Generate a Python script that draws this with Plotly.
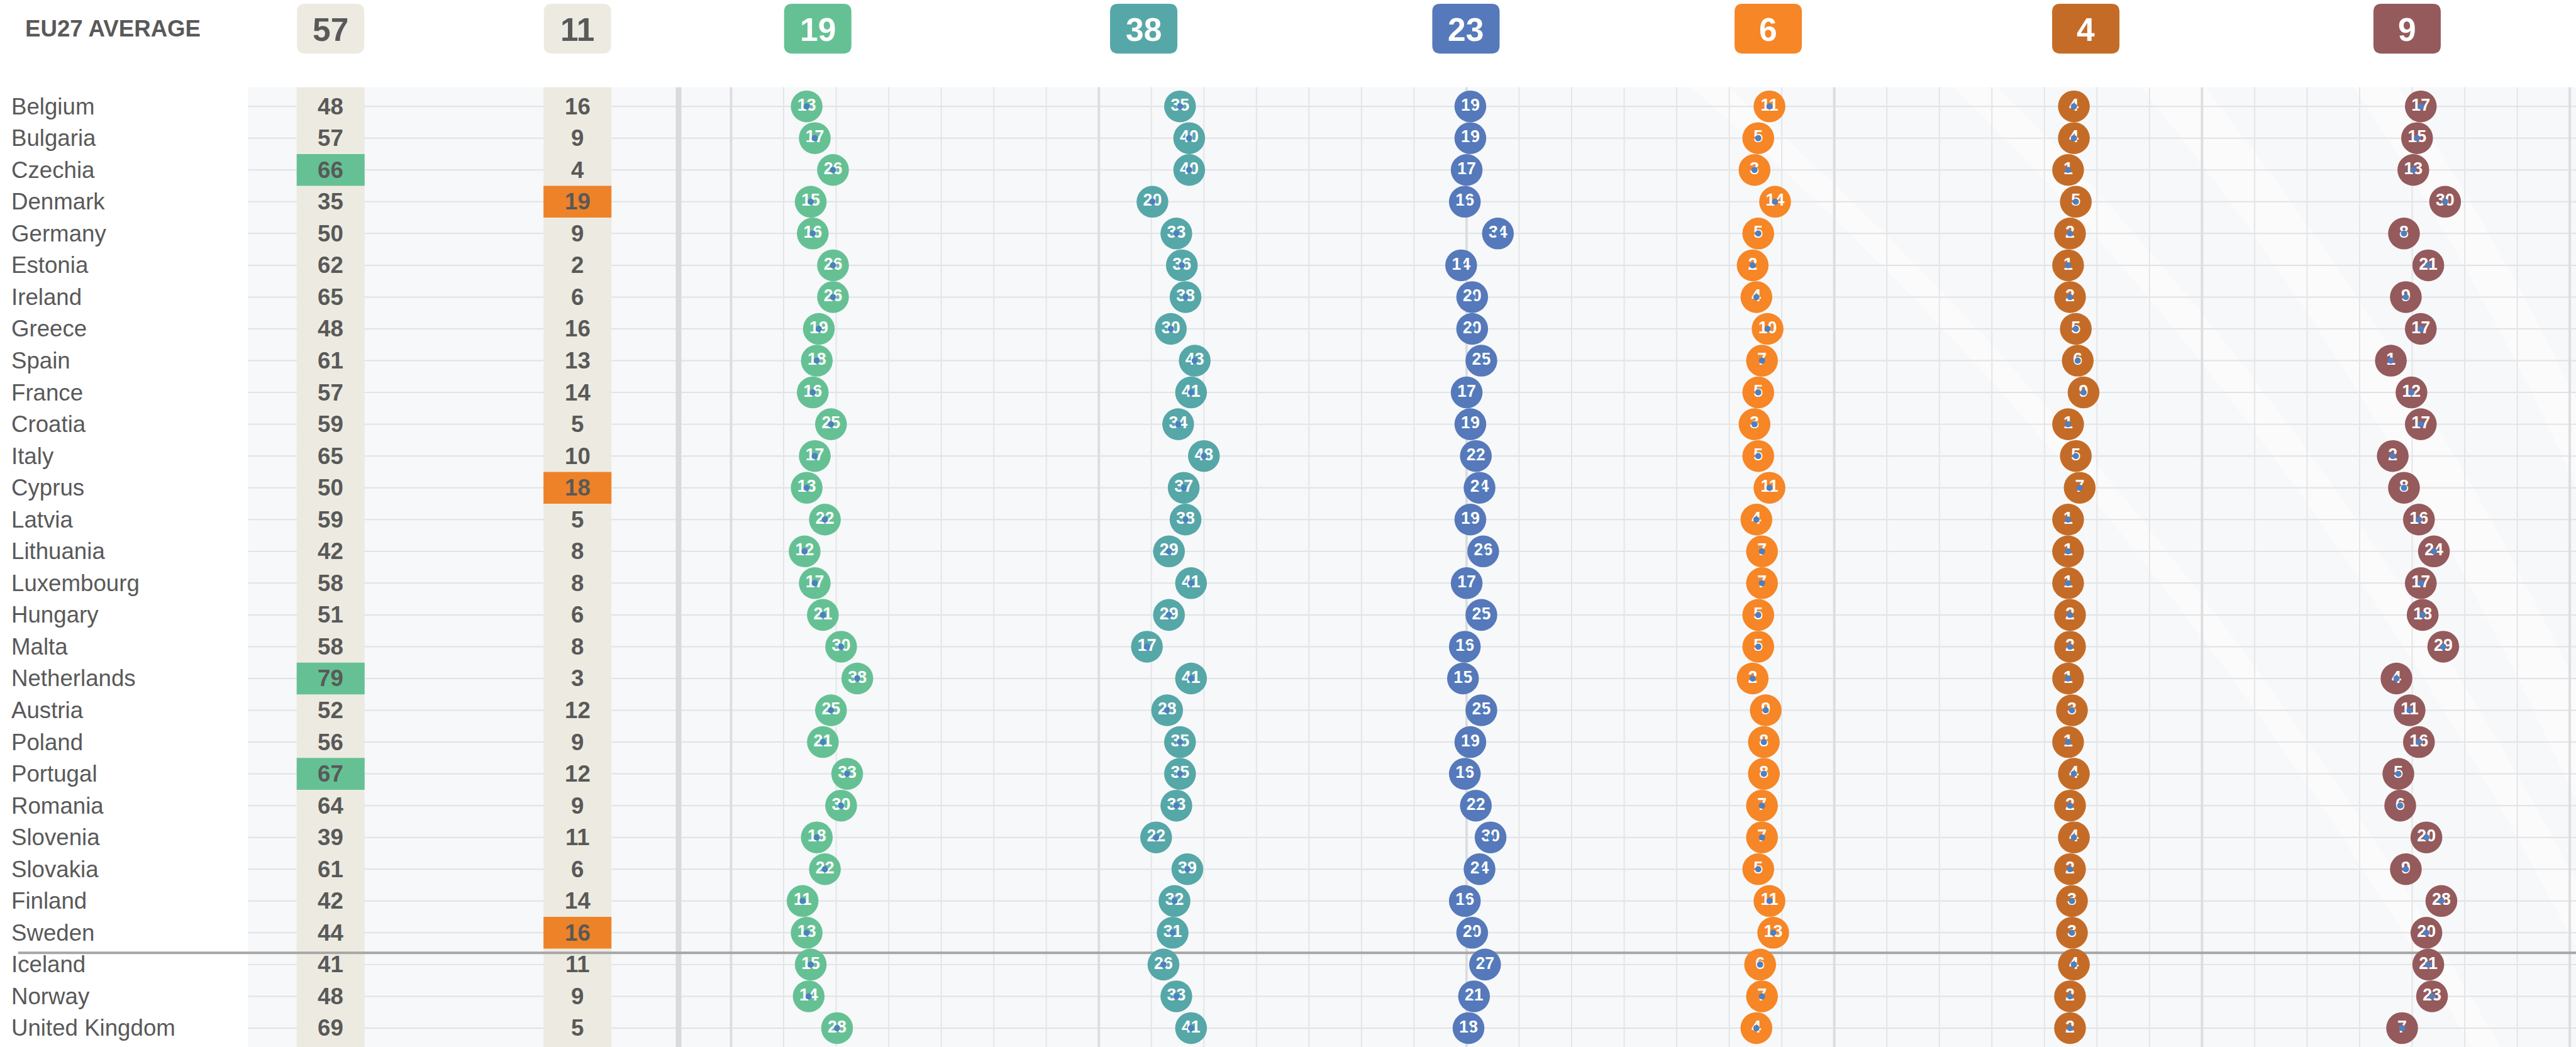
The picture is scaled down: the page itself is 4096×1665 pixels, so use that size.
import plotly.graph_objects as go

# canvas geometry (reference pixel units, scaled on output)
W_REF, H_REF = 4133, 1680
OUT_W, OUT_H = 4096, 1665
S = OUT_W / W_REF

FONT = "Liberation Sans, Arial, sans-serif"
TXT = "#595959"

countries = ["Belgium", "Bulgaria", "Czechia", "Denmark", "Germany", "Estonia", "Ireland",
             "Greece", "Spain", "France", "Croatia", "Italy", "Cyprus", "Latvia", "Lithuania",
             "Luxembourg", "Hungary", "Malta", "Netherlands", "Austria", "Poland", "Portugal",
             "Romania", "Slovenia", "Slovakia", "Finland", "Sweden", "Iceland", "Norway",
             "United Kingdom"]

# table columns
table_a = [48, 57, 66, 35, 50, 62, 65, 48, 61, 57, 59, 65, 50, 59, 42, 58, 51, 58, 79, 52,
           56, 67, 64, 39, 61, 42, 44, 41, 48, 69]
table_b = [16, 9, 4, 19, 9, 2, 6, 16, 13, 14, 5, 10, 18, 5, 8, 8, 6, 8, 3, 12,
           9, 12, 9, 11, 6, 14, 16, 11, 9, 5]
table_avg = [57, 11]
top_a = ["Czechia", "Netherlands", "Portugal"]
top_b = ["Denmark", "Cyprus", "Sweden"]

# dot columns
dots_1 = [13, 17, 26, 15, 16, 26, 26, 19, 18, 16, 25, 17, 13, 22, 12, 17, 21, 30, 38, 25,
          21, 33, 30, 18, 22, 11, 13, 15, 14, 28]
dots_2 = [35, 40, 40, 20, 33, 36, 38, 30, 43, 41, 34, 48, 37, 38, 29, 41, 29, 17, 41, 28,
          35, 35, 33, 22, 39, 32, 31, 26, 33, 41]
dots_3 = [19, 19, 17, 16, 34, 14, 20, 20, 25, 17, 19, 22, 24, 19, 26, 17, 25, 16, 15, 25,
          19, 16, 22, 30, 24, 16, 20, 27, 21, 18]
dots_4 = [11, 5, 3, 14, 5, 2, 4, 10, 7, 5, 3, 5, 11, 4, 7, 7, 5, 5, 2, 9,
          8, 8, 7, 7, 5, 11, 13, 6, 7, 4]
dots_5 = [4, 4, 1, 5, 2, 1, 2, 5, 6, 9, 1, 5, 7, 1, 1, 1, 2, 2, 1, 3,
          1, 4, 2, 4, 2, 3, 3, 4, 2, 2]
dots_6 = [17, 15, 13, 30, 8, 21, 9, 17, 1, 12, 17, 2, 8, 16, 24, 17, 18, 29, 4, 11,
          16, 5, 6, 20, 9, 28, 20, 21, 23, 7]
dot_series = [dots_1, dots_2, dots_3, dots_4, dots_5, dots_6]
dot_avgs = [19, 38, 23, 6, 4, 9]
dot_colors = ["#65c194", "#56a7a8", "#5579ba", "#f68626", "#c46c27", "#955a5b"]

# layout of each dot column: left edge of its scale and pixels per unit
col_zero = [1252, 1790, 2303, 2806, 3315, 3833]
col_ppu = [3.25, 2.95, 2.95, 3.0, 3.1, 3.0]
col_span = [500, 500, 500, 500, 500, 300]
header_cx = [530.5, 926.5, 1312, 1835, 2352, 2837, 3346.5, 3862]
HEADER_W = 108

ROW0, ROW_H = 170.7, 51.0
GRID_TOP = 140
GRID_LEFT = 398


def px(x):
    return x / W_REF


def py(y):
    return 1 - y / H_REF


def rounded_rect(x0, y0, x1, y1, r):
    rx, ry = r / W_REF, r / H_REF
    X0, X1, Y0, Y1 = px(x0), px(x1), py(y0), py(y1)
    return (f"M {X0 + rx},{Y0} L {X1 - rx},{Y0} Q {X1},{Y0} {X1},{Y0 - ry} "
            f"L {X1},{Y1 + ry} Q {X1},{Y1} {X1 - rx},{Y1} L {X0 + rx},{Y1} "
            f"Q {X0},{Y1} {X0},{Y1 + ry} L {X0},{Y0 - ry} Q {X0},{Y0} {X0 + rx},{Y0} Z")


shapes = []
# plot-area background
shapes.append(dict(type="rect", xref="paper", yref="paper", x0=px(GRID_LEFT), x1=1,
                   y0=0, y1=py(GRID_TOP), fillcolor="#f7f8fa", line_width=0, layer="below"))
# faint decorative light bands in the background
for (xa, xb, xc, w) in [(3350, 3950, 4350, 80), (3700, 4200, 4500, 60),
                        (3000, 3750, 4250, 50), (2550, 3400, 4000, 40)]:
    path = f"M {px(xa)},{py(-20)} Q {px(xb)},{py(650)} {px(xc)},{py(1700)}"
    shapes.append(dict(type="path", xref="paper", yref="paper", path=path,
                       line=dict(color="rgba(255,255,255,0.45)", width=w * S), layer="below"))
# row lines
for i in range(len(countries)):
    shapes.append(dict(type="line", xref="paper", yref="y", x0=px(GRID_LEFT), x1=1,
                       y0=i, y1=i, line=dict(color="#e1e2e4", width=2 * S), layer="below"))
# vertical grid
step = (4123 - 1173) / 35
for k in range(-1, 36):
    x = 1173 + step * k
    if k == -1:
        w, c = 9, "#d9dadc"
    elif k % 7 == 0:
        w, c = 4, "#dcdde0"
    else:
        w, c = 2, "#e4e5e7"
    shapes.append(dict(type="line", xref="paper", yref="paper", x0=px(x), x1=px(x),
                       y0=0, y1=py(GRID_TOP), line=dict(color=c, width=w * S), layer="below"))
# table column bands
for cx in header_cx[:2]:
    shapes.append(dict(type="rect", xref="paper", yref="paper",
                       x0=px(cx - 54.5), x1=px(cx + 54.5), y0=0, y1=py(GRID_TOP),
                       fillcolor="#edebe1", line_width=0, layer="below"))
# highlighted cells
for cx, tops, col in [(header_cx[0], top_a, "#65c194"), (header_cx[1], top_b, "#ee8228")]:
    for name in tops:
        i = countries.index(name)
        shapes.append(dict(type="rect", xref="paper", yref="y",
                           x0=px(cx - 54.5), x1=px(cx + 54.5), y0=i - 0.5, y1=i + 0.5,
                           fillcolor=col, line_width=0, layer="below"))
# EU / non-EU separator
sep = countries.index("Sweden") + 0.63
shapes.append(dict(type="line", xref="paper", yref="y", x0=px(29), x1=1, y0=sep, y1=sep,
                   line=dict(color="#a6a6a6", width=4 * S), layer="below"))
# header badges
badge_fill = ["#edebe1", "#edebe1"] + dot_colors
for cx, fill in zip(header_cx, badge_fill):
    shapes.append(dict(type="path", xref="paper", yref="paper",
                       path=rounded_rect(cx - HEADER_W / 2, 6, cx + HEADER_W / 2, 86, 13),
                       fillcolor=fill, line_width=0, layer="below"))

annotations = []
annotations.append(dict(text="<b>EU27 AVERAGE</b>", xref="paper", yref="paper", x=px(38),
                        y=py(46), xanchor="left", yanchor="middle", showarrow=False,
                        font=dict(family=FONT, size=37 * S, color=TXT)))
header_vals = table_avg + dot_avgs
for j, (cx, v) in enumerate(zip(header_cx, header_vals)):
    annotations.append(dict(text=f"<b>{v}</b>", xref="paper", yref="paper", x=px(cx),
                            y=py(47), xanchor="center", yanchor="middle", showarrow=False,
                            font=dict(family=FONT, size=52 * S,
                                      color=TXT if j < 2 else "#ffffff")))
for i, name in enumerate(countries):
    annotations.append(dict(text=name, xref="paper", yref="y", x=px(16), y=i,
                            xanchor="left", yanchor="middle", showarrow=False,
                            font=dict(family=FONT, size=37 * S, color=TXT)))
    for cx, vals in [(header_cx[0], table_a), (header_cx[1], table_b)]:
        annotations.append(dict(text=f"<b>{vals[i]}</b>", xref="paper", yref="y", x=px(cx),
                                y=i, xanchor="center", yanchor="middle", showarrow=False,
                                font=dict(family=FONT, size=37 * S, color=TXT)))

fig = go.Figure()
axis_names = ["x", "x2", "x3", "x4", "x5", "x6"]
for k, (vals, col) in enumerate(zip(dot_series, dot_colors)):
    ax = axis_names[k]
    fig.add_trace(go.Scatter(
        x=vals, y=countries, xaxis=ax, yaxis="y", mode="markers+text",
        marker=dict(size=51 * S, color=col, line_width=0),
        text=[str(v) for v in vals], textposition="middle center",
        textfont=dict(family=FONT, size=27 * S, color="#ffffff", weight="bold"),
        hoverinfo="skip", cliponaxis=False))
    fig.add_trace(go.Scatter(
        x=vals, y=countries, xaxis=ax, yaxis="y", mode="markers",
        marker=dict(size=10 * S, color="#4e7fc1", line_width=0),
        hoverinfo="skip", cliponaxis=False))

layout_axes = {}
for k in range(6):
    key = "xaxis" if k == 0 else f"xaxis{k + 1}"
    z = col_zero[k]
    layout_axes[key] = dict(domain=[px(z), px(z + col_span[k])],
                            range=[0, col_span[k] / col_ppu[k]], anchor="y",
                            visible=False, fixedrange=True)

fig.update_layout(
    width=OUT_W, height=OUT_H, margin=dict(l=0, r=0, t=0, b=0, pad=0),
    paper_bgcolor="#ffffff", plot_bgcolor="rgba(0,0,0,0)", showlegend=False,
    yaxis=dict(domain=[0, 1], type="category", categoryorder="array",
               categoryarray=countries,
               range=[(H_REF - ROW0) / ROW_H, -ROW0 / ROW_H],
               visible=False, fixedrange=True),
    shapes=shapes, annotations=annotations,
    **layout_axes,
)

fig.write_html("out.html")
